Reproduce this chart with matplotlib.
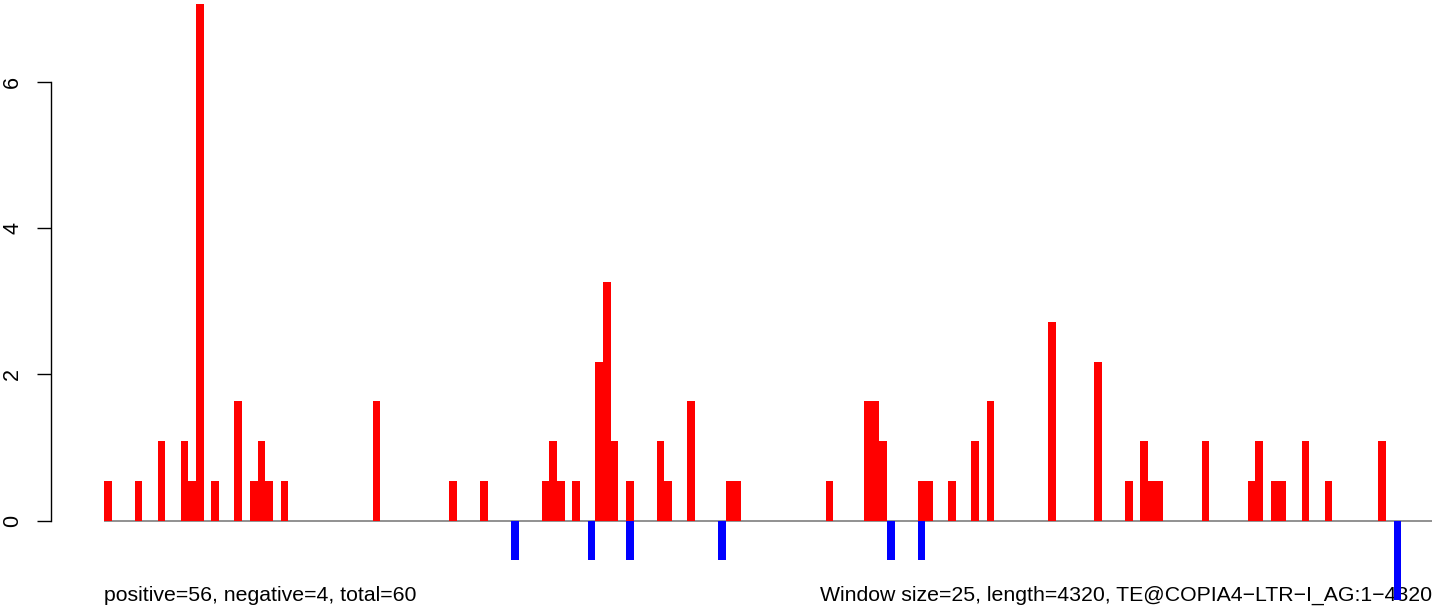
import matplotlib
matplotlib.use("Agg")
import matplotlib.pyplot as plt
import numpy as np

# window layout: length 4320, window size 25 -> 173 windows
n_windows = 173

# positive windows (red) and their heights
pos_windows = [0, 4, 7, 10, 11, 12, 14, 17, 19, 20, 21, 23, 35, 45, 49,
               57, 58, 59, 61, 64, 65, 66, 68, 72, 73, 76, 81, 82, 94,
               99, 100, 101, 106, 107, 110, 113, 115, 123, 129, 133, 135,
               136, 137, 143, 149, 150, 152, 153, 156, 159, 166]
pos_values = [0.54, 0.54, 1.09, 1.09, 0.54, 7.07, 0.54, 1.63, 0.54, 1.09,
              0.54, 0.54, 1.63, 0.54, 0.54, 0.54, 1.09, 0.54, 0.54, 2.17,
              3.26, 1.09, 0.54, 1.09, 0.54, 1.63, 0.54, 0.54, 0.54, 1.63,
              1.63, 1.09, 0.54, 0.54, 0.54, 1.09, 1.63, 2.72, 2.17, 0.54,
              1.09, 0.54, 0.54, 1.09, 0.54, 1.09, 0.54, 0.54, 1.09, 0.54,
              1.09]

# negative windows (blue)
neg_windows = [53, 63, 68, 80, 102, 106, 168]
neg_values = [-0.54, -0.54, -0.54, -0.54, -0.54, -0.54, -1.09]

yticks = [0, 2, 4, 6]
left_text = "positive=56, negative=4, total=60"
right_text = "Window size=25, length=4320, TE@COPIA4\u2212LTR\u2212I_AG:1\u22124320"

plt.rcParams['font.family'] = ['Liberation Sans', 'DejaVu Sans']

W, H, dpi = 1444, 613, 100
fig = plt.figure(figsize=(W / dpi, H / dpi), dpi=dpi)
ax = fig.add_axes([104 / W, (H - 600) / H, 1328 / W, 596 / H])

ax.bar(pos_windows, pos_values, width=1, align='edge', color='#FF0000',
       edgecolor='none', zorder=3)
ax.bar(neg_windows, neg_values, width=1, align='edge', color='#0000FF',
       edgecolor='none', zorder=3)
ax.hlines(0, 0, n_windows, color='#888888', lw=1.3, zorder=2)

ax.set_xlim(0, n_windows)
ax.set_ylim(-1.087, 7.065)

for s in ['top', 'right', 'bottom']:
    ax.spines[s].set_visible(False)
ax.spines['left'].set_position(('outward', 53 * 72 / dpi))
ax.spines['left'].set_bounds(0, 6)
ax.spines['left'].set_linewidth(1.0)
ax.set_xticks([])
ax.set_yticks(yticks)
ax.set_yticklabels([str(t) for t in yticks], rotation=90, va='center')
ax.tick_params(axis='y', length=10, width=1.0, labelsize=15.5, pad=10)

ax.text(104 / W, (H - 601) / H, left_text, transform=fig.transFigure,
        ha='left', va='baseline', fontsize=15.3, zorder=1, clip_on=False)
ax.text(1432 / W, (H - 601) / H, right_text, transform=fig.transFigure,
        ha='right', va='baseline', fontsize=15.3, zorder=1, clip_on=False)

fig.savefig("out.png", dpi=dpi)
